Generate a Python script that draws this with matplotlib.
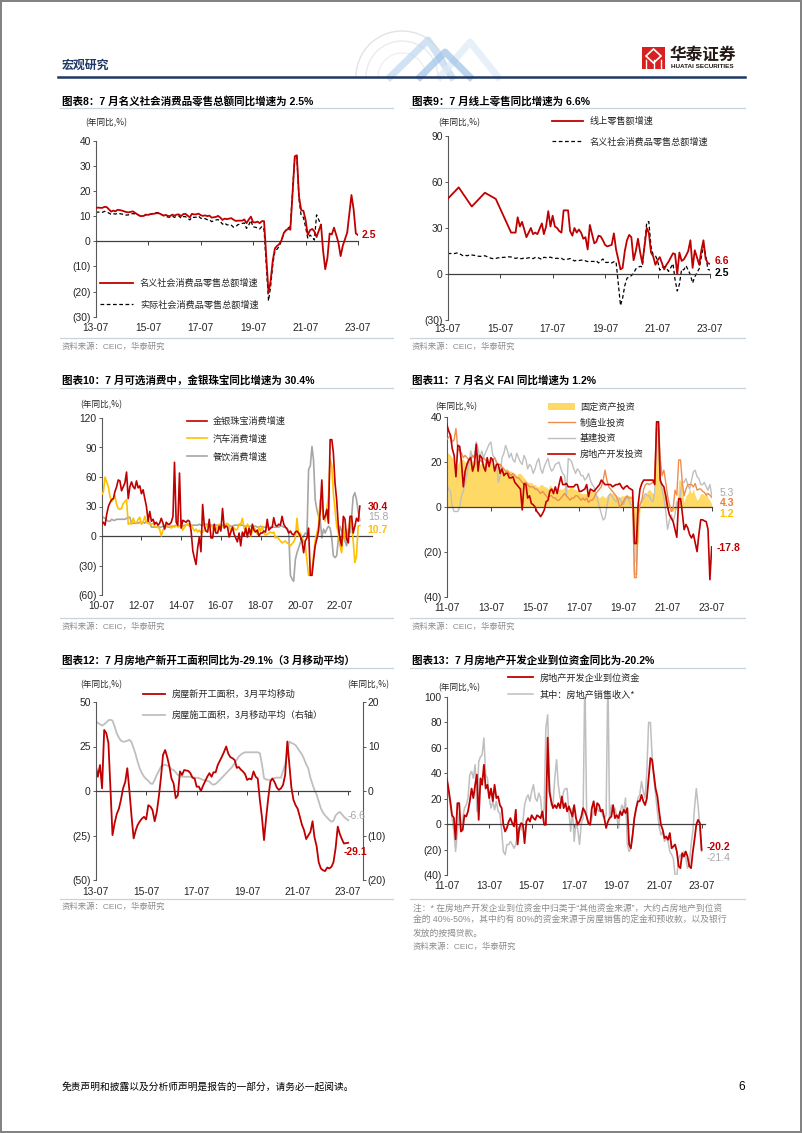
"""宏观研究 第 6 页：社零、线上零售、可选消费、FAI、新开工、到位资金 六张图。"""
import matplotlib
matplotlib.use("Agg")
import matplotlib.dates as mdates
import matplotlib.pyplot as plt
import numpy as np
import pandas as pd
from matplotlib.lines import Line2D
from matplotlib.patches import Arc, Polygon, Rectangle
from matplotlib.ticker import FuncFormatter

plt.rcParams["font.family"] = ["Liberation Sans", "Noto Sans CJK SC", "DejaVu Sans"]
plt.rcParams["axes.unicode_minus"] = False
CJK = ["Noto Sans CJK SC", "DejaVu Sans"]

# ---- 图表8：社零名义/实际（月度，1月与2月合并，不含1月）
RETAIL_NOMINAL = [
    13.2, 13.4, 13.3, 13.3, 13.7, 13.6,
    11.8, 12.2, 11.9, 12.5, 12.4, 12.2, 11.9, 11.6, 11.5, 11.7, 11.9,
    10.7, 10.2, 10.0, 10.1, 10.6, 10.5, 10.8, 10.9, 11.0, 11.2, 11.1,
    10.2, 10.5, 10.1, 10.0, 10.6, 10.2, 10.6, 10.7, 10.0, 10.8, 10.9,
    9.5, 10.9, 10.7, 10.7, 11.0, 10.4, 10.1, 10.3, 10.0, 10.2, 9.4,
    9.7, 10.1, 9.4, 8.5, 9.0, 8.8, 9.0, 9.2, 8.6, 8.1, 8.2,
    8.2, 8.7, 7.2, 8.6, 9.8, 7.6, 7.5, 7.8, 7.2, 8.0, 8.0,
    -20.5, -15.8, -7.5, -2.8, -1.8, -1.1, 0.5, 3.3, 4.3, 5.0, 4.6,
    33.8, 34.2, 17.7, 12.4, 12.1, 8.5, 2.5, 4.4, 4.9, 3.9, 1.7,
    6.7, -3.5, -11.1, -6.7, 3.1, 2.7, 5.4, 2.5, -0.5, -5.9, -1.8,
    3.5, 10.6, 18.4, 12.7, 3.1, 2.5,
]
RETAIL_REAL = [
    11.5, 11.6, 11.6, 11.5, 11.9, 11.7,
    10.7, 11.0, 10.8, 11.1, 11.0, 10.8, 10.7, 10.4, 10.5, 10.9, 11.0,
    10.8, 10.2, 10.0, 10.2, 10.6, 10.4, 10.7, 11.0, 11.2, 11.4, 11.3,
    10.2, 10.1, 9.6, 9.6, 10.0, 9.5, 10.0, 10.1, 9.2, 9.8, 9.8,
    8.5, 9.6, 9.5, 9.6, 10.0, 9.2, 8.9, 9.0, 8.6, 8.6, 7.8,
    8.5, 8.6, 7.9, 6.8, 7.3, 6.5, 6.6, 6.4, 5.6, 5.8, 6.6,
    7.1, 7.3, 5.1, 6.4, 8.3, 5.7, 5.6, 5.3, 4.9, 5.9, 4.6,
    -23.7, -18.1, -9.1, -3.7, -3.1, -1.9, 0.4, 3.3, 4.5, 5.3, 5.8,
    33.8, 34.0, 16.6, 10.1, 9.5, 5.7, 1.1, 2.5, 1.6, 0.5, 10.5,
    6.5,
]

# ---- 图表9：线上零售额增速（早期稀疏点 + 2016-02 起月度，不含1月）
ONLINE_EARLY_DATES = ["2013-07-01", "2013-12-01", "2014-06-01", "2014-12-01", "2015-05-01", "2015-12-01"]
ONLINE_EARLY = [49, 56.5, 44, 53, 49, 27]
ONLINE_MONTHLY = [
    27, 37, 31, 34, 29, 24, 27, 30, 26, 27, 26,
    33, 26, 31, 41, 31, 38, 31, 30, 28, 27, 41.5,
    41.5, 28, 25, 30, 27, 29, 27, 23, 24, 16, 32,
    20, 21, 25, 24.5, 22, 19, 18, 18.5, 19, 26.5, 16,
    3, 4, 15, 22, 25.5, 24, 9, 15, 23, 14, 7,
    30, 27, 14, 11.5, 6, 9, 11, 7, 3, 6, 8,
    13.5, 13, 0, 14, 8.5, 9.5, 12, 15, 22, 4, 15.5,
    6, 15, 22, 10, 7, 6.6,
]

# ---- 图表10：可选消费（2010-07 起月度）
JEWELRY = [
    12, 14, 11, 22, 30, 34,
    37, 38, 45, 50, 57, 56, 46, 50, 54, 65, 38, 50,
    55, 50, 48, 56, 49, 51, 43, 47, 38, 30, 15, 25,
    15, 17, 12, 14, 11, 13, 18, 13, 7, 14, 12, 12,
    14, 20, 75, 14, 11, 64, 8, 16, 15, 14, 16, 15,
    5, -15, -22, -29, -12, -1, -16, 32, 10, 5, 4, 17,
    -2, -2, 12, 3, 3, 10, 5, 28, 8, 10, 9, -1,
    4, 9, 2, -2, -6, 3, -10, 4, 0, 8, -1, 8,
    1, 12, 6, 4, 6, 0, 3, 3, 5, 4, 17, 6,
    8, 9, 18.6, 11, 10, 12, 11, 20, 12, 9, 7, 3,
    5, 2, 1, 4, 5, 3, 0, -5, -17, -5, -2, 8,
    -40, -40, -25, -10, -3, 5, 24, 57, 17, 20, 27, 13,
    98, 98, 85, 54, 37, 10, -3, -10, 20, 17, -3, -7,
    20, 20, 3, 10, 18, 15, 30.4,
]
AUTO = [
    42, 45, 60, 55, 50, 40,
    35, 38, 41, 32, 28, 27, 28, 33, 35, 37, 12, 13,
    12, 18, 14, 13, 17, 19, 12, 14, 20, 14, 13, 12,
    12, 13, 10, 9, 9, 7, 0, 6, 8, 10, 12, 10,
    8, 10, 9, 11, 9, 10, 12, 6, 9, 11, 12, 10,
    11, 8, 5, 7, 4, 6, 3, 4, 6, 10, 11, 12,
    10, 9, 5, 7, 10, 12, 8, 10, 11, 12, 13, 10,
    5, 9, 8, 6, 7, 12, 12, 18, 8, 6, 12, 10,
    0, 5, 9, 6, 2, 9, 5, 10, 3, 1, 2, 3,
    4, 3, 4, -2, -1, -3, -5, -7, -6, -5, -7, -8,
    -10, -8, -6, -2, 18, 0, 3, -3, -5, -10, -25, -40,
    -40, -35, -20, -5, 3, 10, 37, 30, 20, 15, 28, 40,
    78, 71, 44, 27, 10, 3, -10, -17, 10, -3, -2, 0,
    17, 10, -5, -27, -20, 10, 10.7,
]
CATERING = [
    20, 19, 18, 16, 15, 15,
    17, 16, 16, 17, 17, 17, 17, 17, 17, 18, 19, 19,
    13, 13, 13, 13, 13, 14, 13, 14, 13, 15, 14, 14,
    9, 9, 9, 9, 10, 9, 9, 10, 10, 10, 9, 9,
    10, 10, 10, 11, 10, 10, 10, 10, 11, 11, 12, 11,
    11, 11, 11, 11, 11, 12, 11, 11, 12, 12, 12, 11,
    11, 11, 11, 11, 11, 11, 11, 11, 11, 11, 11, 11,
    10, 10, 11, 11, 11, 11, 11, 11, 10, 10, 10, 10,
    10, 10, 10, 10, 9, 9, 10, 9, 9, 9, 9, 9,
    9, 9, 9, 9, 9, 9, 10, 10, 9, 9, 8, 5,
    -40, -44, -46, -24, -17, -12, -7, -3, 0, 3, 2, 68,
    71, 91, 78, 37, 27, 20, 17, -2, 7, 3, 7, 10,
    8, -3, -20, -22, -20, -3, 10, 5, 0, -5, -10, 7,
    3, 20, 40, 44, 37, 25, 15.8,
]

# ---- 图表11：FAI 分项（2011-07 起月度）
FAI = [
    24, 24, 23, 22, 20, 17, 19, 21, 22, 21, 20, 21,
    20, 20, 21, 20, 21, 20, 19, 20, 19, 20, 20, 19,
    20, 19, 18, 18, 18, 19, 17, 16, 17, 17, 16, 16,
    15, 15, 14, 15, 15, 14, 13, 12, 11, 11, 11, 10,
    10, 9, 9, 10, 10, 9, 9, 8, 10, 9, 8, 7,
    7, 8, 8, 8, 9, 8, 8, 9, 9, 8, 8, 7,
    7, 6, 6, 6, 6, 6, 7, 7, 7, 6, 5, 4,
    5, 5, 4, 5, 6, 6, 6, 6, 5, 5, 4, 5,
    5, 5, 5, 5, 5, 5, -24.5, -24.5, -16, -1, 3, 6,
    5, 7, 8, 7, 6, 6.3, 35, 35, 12, 9, 8, 6,
    3, 0, -2, -2, -1, -1, 12, 12, 9, 2, 5, 6,
    8, 6, 8, 5, 3, 4, 6, 6, 5, 7, 4, 3,
    1.2,
]
MANUF = [
    30, 31, 32, 29, 30, 35, 26, 25, 24, 22, 23, 22,
    21, 22, 23, 22, 24, 23, 21, 20, 22, 21, 20, 19,
    20, 21, 22, 20, 19, 19, 18, 17, 16, 16, 15, 14,
    15, 14, 13, 13, 12, 11, 10, 11, 10, 9, 9, 9,
    8, 8, 7, 6, 7, 6, 5, 4, 5, 5, 4, 4,
    3, 3, 4, 5, 6, 5, 4, 3, 4, 4, 5, 5,
    4, 3, 4, 3, 4, 2, 3, 3, 4, 6, 7, 8,
    9, 12, 16.4, 12, 9, 8, 7, 6, 5, 3, 0, 1,
    2.4, 4, 5, 4, 4, 4, -31.5, -31.5, -3.5, 1, 3, 8,
    10, 10.5, 10, 10.5, 11, 12.7, 38, 38, 21.6, 14, 16.4, 11,
    5, 1, -2, -0.6, 7.5, 5.3, 21, 21, 11, 5, 8, 10,
    10, 10, 9, 10.5, 7.5, 8, 8, 7, 6.5, 5.3, 6, 5.3,
    4.3,
]
INFRA = [
    10, 8, 7, 0, -2, -2, -2, 0, 5, 7, 11, 15,
    19, 25, 22, 23, 29, 26, 22, 25, 22, 24, 26, 28,
    29, 23, 22, 20, 11, 14, 22, 24, 27.5, 25, 22, 24,
    21, 20, 24, 22, 20, 19, 23, 21, 17, 19, 18, 15,
    17, 20, 21.6, 17, 15, 18, 20, 21.6, 18, 16, 17, 19,
    19.5, 20, 17, 15, 14, 5, 21.6, 21, 20, 17, 15, 17,
    16, 14, 14, 12, 13, 15, 12, 10, 9, 6, 3, 0,
    -3, -5.8, -5, 0, 5, 6, 4.6, 3, 2.4, 3, 4, 2,
    1, 3, 4.6, 3, 1, 1, -30, -30, -3.5, 1, 2.4, 4,
    6, 5, 5, 3, 2.4, 6.8, 35, 35, 11, 8, 4, -2,
    -10, -6, -3.5, -6.5, -3.5, 2.4, -0.6, 6.8, 11, 11, 12.7, 10,
    8, 12, 15.7, 16.4, 13.5, 12.7, 10, 10, 11, 9, 7.5, 10,
    5.3,
]
PROPERTY_FAI = [
    37, 34, 32, 26, 23, 13.5, 27.5, 27, 20, 9, 16, 19,
    21, 22, 16, 19, 28, 16, 23, 22, 18, 16, 22, 18,
    22, 21, 16, 19, 19, 15, 17, 14, 15, 15, 13, 13,
    13.5, 11, 10, 9, 8, -1.3, 10.5, 10, 4, 5, 1.6, 1,
    0, -2, -3, -4.3, -3, -1.3, 2.4, 3, 7, 8, 6, 9,
    6, 10, 13.5, 10, 10, 10.5, 9, 9, 9, 9, 10, 10,
    7, 7, 7.5, 8, 10, 4.6, 8, 7.5, 7, 8, 9, 10,
    12, 11, 10, 10, 10, 10, 9, 9.5, 10, 10, 10.5, 9,
    8, 9, 9.5, 8.5, 8, 7.5, -16.3, -16.3, 1, 8, 10.5, 12,
    12, 12, 12, 12, 12, 10, 38, 38, 12, 10, 9, 5,
    0, -3.5, -5, -6.5, -10, -13.5, 3.7, 3.7, -2.4, -10.1, -7.8, -9.4,
    -12.3, -13.8, -12.1, -16, -19.9, -12.2, -5.7, -5.7, -6.2, -6.5, -10, -32.4,
    -17.8,
]

# ---- 图表12：新开工 / 施工面积 3 月移动平均（2013-07 起月度）
NEW_STARTS = [
    14.6, 8, 14.6, 1.5, 34.3, 32.5, 27, 0, -24.8, -18, -13, -10,
    -5, 1.5, 5, 12.8, 0, -14, -26.6, -22, -19, -17, -15.5, -14.5,
    -16, -8, -8.8, -10.7, -17, -12, -3, 8, 20.3, 23, 19, 13.7,
    7, 4.3, -4, -2.5, 11, 9, 11.8, 11.5, 11.3, 10, 7.5, 7,
    2.4, 2.5, 0, 3, 5.5, 8, 10, 8, 10.5, 10.5, 14.5, 17,
    19.3, 22, 25, 21, 19, 18.4, 17.4, 13, 13.5, 12, 11, 9.5,
    6.2, 7, 6.5, 11, 8, 7, -5, -15, -27.6, -15, -4, 5.3,
    7, 5, 2, 0.6, 1.5, 3.4, 9, 27.8, 15.6, 2, -5, -8,
    -10, -14.4, -19, -22, -27, -25, -23, -17, -26, -31, -40, -43.5,
    -44.5, -45, -43, -43.5, -42.6, -40, -32, -20, -24, -27, -29.5, -29.3,
    -29.1,
]
UNDER_CONST = [
    15.6, 15.3, 15.0, 14.7, 15.0, 15.4, 15.9, 16.0, 15.8, 14.5, 13.0, 12.0,
    11.3, 11.1, 11.1, 11.3, 11.5, 11.0, 9.6, 8.1, 6.5, 5.0, 4.0, 3.2,
    2.7, 2.3, 1.7, 1.6, 2.5, 3.6, 4.5, 5.5, 5.8, 5.9, 5.7, 5.5,
    4.9, 4.7, 4.2, 3.6, 3.4, 3.2, 3.2, 3.2, 3.2, 3.2, 3.1, 3.0,
    3.0, 2.9, 2.7, 2.5, 2.4, 2.3, 2.1, 1.6, 1.4, 1.6, 2.0, 2.5,
    3.0, 3.5, 4.0, 4.5, 5.0, 5.5, 6.2, 7.0, 7.7, 8.2, 8.5, 8.7,
    8.7, 8.7, 8.7, 8.7, 8.7, 8.7, 8.5, 5.9, 2.9, 2.6, 2.5, 2.5,
    2.7, 2.9, 3.0, 3.0, 3.0, 4.5, 6.0, 8.9, 11.1, 10.8, 10.6, 10.3,
    9.6, 8.9, 8.2, 7.2, 6.0, 5.1, 3.0, 1.5, 0.2, -0.8, -2.3, -3.9,
    -4.8, -5.5, -6.0, -6.5, -6.9, -6.7, -5.5, -5.0, -4.7, -5.2, -5.8, -6.2,
    -6.6,
]

# ---- 图表13：到位资金 / 销售收入（2011-07 起月度）
FUNDS = [
    36, 28, 18, 7, 5, -12, 16.5, 16.5, -5.8, -4.5,
    7, 6, 10, 18, 28, 20.5, 31, 39, 3.4, 36,
    31, 46.7, 28, 31, 20.5, 28, 18, 31, 20.5, 21.8,
    15, 12.6, -0.5, -5.8, -3, 2, 4.7, 0.8, -1.8, 11.3,
    -16, -3, 0.8, -0.5, -15, 2, 4.7, 2, 7, 4.7,
    3.4, 7, 6, 4.7, 10, -0.5, -0.5, 68, 25.7, 18,
    12.6, 15, 12.6, 16.5, 12.6, 21.8, 12.6, 16.5, 10, 14,
    10, 6, 15, 4.7, -0.5, 2, 6, 12.6, 10, 6,
    0.8, -0.5, 12.6, 18, 7, 16.5, 15, 10, 11.3, 4.7,
    -3, 2, 4.7, 6, 15, 4.7, 7, 4.7, 10, 7,
    11.3, 8.7, 12.6, -16, -19, -8.4, 4.7, 12.6, 18, 18,
    23, 18, 15, 20, 36, 52, 50.7, 39, 28, 21.8,
    10, -0.5, -4.5, -11, -9.7, -12.3, -7, -19, -17.6, -16,
    -21.5, -33, -34.6, -22.8, -25.5, -21.5, -25.5, -33, -34.6, -21.5,
    -12.3, -0.5, 3.4, 0.8, -20.2,
]
SALES = [
    39, 25.7, 15, 4.7, -5.8, -21.5, -5.8, 8.7, -5.8, 4.7,
    12.6, 15, 20.5, 39, 41.5, 36, 46.7, 10, 49, 53,
    54.6, 67.7, 39, 36, 20.5, 12.6, 18, 11.3, 18, 10,
    8.7, -5.8, -21.5, -24, -16, -16, -13.6, -16, -19, -16,
    -5.8, -1.8, -4.5, 2, 15, 20.5, 23, 18, 25.7, 31,
    20.5, 18, 24.4, 20.5, 4.7, 12.6, 75.6, 86, 36, 15,
    15, 36, 50.7, 31, 20.5, 18, 25.7, 28, 28, 10,
    -5.8, 12.6, -13.6, 2, -4.5, -16, 0.8, 4.7, 120, 4.7,
    2, -0.5, 4.7, 10, 10, 12.6, 10, 11.3, 7, 4.7,
    7, 120, 4.7, 15, 10, 12.6, 7, -3, 10, 15,
    10, 20.5, -16, -21.5, -19, -8.4, 4.7, 12.6, 20.5, 23,
    33.6, 25.7, 20.5, 41.5, 80, 80, 54.6, 36, 23, 10,
    -1.8, -8.4, -5.8, -13.6, -11, -13.6, -21.5, -24, -26.8, -40,
    -41, -26.8, -24, -26.8, -21.5, -26.8, -34.6, -32, -16, -5.8,
    12.6, 28, 15, -1.8, -21.4,
]

W, H = 802, 1133
RED = "#C00000"
YELLOW = "#FFC000"
GREY = "#A6A6A6"
LGREY = "#BFBFBF"
ORANGE = "#F08C4E"
FAI_C = "#FFD966"
AXIS = "#595959"
ZERO = "#404040"
TXT = "#262626"
SRC = "#8C8C8C"
RULE = "#C9D3DE"
NAVY = "#1F3864"

fig = plt.figure(figsize=(W / 100, H / 100), dpi=100)


def fx(x):
    return x / W


def fy(y):
    return 1 - y / H


def panel(l, t, r, b):
    return fig.add_axes([fx(l), fy(b), (r - l) / W, (b - t) / H])


def d2n(s):
    return mdates.date2num(pd.Timestamp(s))


def monthly(start, n, skip_jan=False):
    d = pd.date_range(start, periods=2 * n, freq="MS")
    if skip_jan:
        d = d[d.month != 1]
    return mdates.date2num(d[:n].to_pydatetime())


def paren(v, _):
    return f"({abs(v):g})" if v < 0 else f"{v:g}"


def setup(ax, ylim, yticks, x0, x1, years, drop_px, zero_end=None):
    ax.set_xlim(d2n(x0), d2n(x1))
    ax.set_ylim(*ylim)
    ax.set_yticks(list(yticks))
    ax.yaxis.set_major_formatter(FuncFormatter(paren))
    ax.patch.set_visible(False)
    for s in ("top", "right"):
        ax.spines[s].set_visible(False)
    ax.spines["left"].set(color=AXIS, linewidth=0.8)
    sp = ax.spines["bottom"]
    sp.set_position(("data", 0))
    sp.set(color=ZERO, linewidth=0.9)
    if zero_end:
        sp.set_bounds(d2n(x0), d2n(zero_end))
    ticks = [d2n(f"{y}-07-01") for y in years]
    ax.set_xticks(ticks)
    ax.tick_params(axis="x", labelbottom=False, direction="out", length=3, width=0.7, color=ZERO)
    ax.tick_params(axis="y", direction="out", length=2, width=0.7, color=AXIS,
                   labelsize=7.4, labelcolor=TXT, pad=1.5)
    hpx = ax.get_position().height * H
    for y, t in zip(years, ticks):
        ax.text(t, -drop_px / hpx, f"{y % 100:02d}-07", transform=ax.get_xaxis_transform(),
                ha="center", va="center", fontsize=7.4, color=TXT)


def legend(ax, handles, x, y, gap, hlen, tx, fs=6.6):
    fpx = fs * 100 / 72
    rowh = 0.92 * fpx
    ax.legend(handles=handles, loc="upper left", bbox_to_anchor=(fx(x), fy(y - 0.6 * fpx)),
              bbox_transform=fig.transFigure, frameon=False, prop={"family": CJK, "size": fs},
              handlelength=hlen / fpx, handletextpad=(tx - x - hlen) / fpx,
              labelspacing=(gap - rowh) / fpx, borderpad=0, borderaxespad=0, labelcolor=TXT)


def tag(ax, x, y, text, color, dx=4, bold=True):
    ax.annotate(text, xy=(x, y), xytext=(dx * 0.72, 0), textcoords="offset points",
                ha="left", va="center", fontsize=7.5, color=color,
                fontweight="bold" if bold else "normal", annotation_clip=False)


def unit(x, y):
    fig.text(fx(x), fy(y), "(年同比,%)", fontsize=6.2, family=CJK, va="center", color=TXT)


def heading(x0, x1, y_text, y_line, text):
    fig.text(fx(x0 + 2), fy(y_text), text, fontsize=7.6, fontweight="bold", va="center", color="black")
    fig.add_artist(Line2D([fx(x0), fx(x1)], [fy(y_line)] * 2, color=RULE, lw=0.9))


def source(x0, x1, y_line, y_text):
    fig.add_artist(Line2D([fx(x0), fx(x1)], [fy(y_line)] * 2, color=RULE, lw=0.9))
    fig.text(fx(x0 + 2), fy(y_text), "资料来源：CEIC，华泰研究", fontsize=6, color=SRC, va="center")


# ---------------- page furniture
fig.add_artist(Rectangle((0.001, 0.001), 0.998, 0.998, transform=fig.transFigure,
                         fill=False, ec="#808080", lw=1.4))
for r, c in ((46, "#E3E3E3"), (36, "#EBEBEB"), (24, "#F0F0F0")):
    fig.add_artist(Arc((fx(402), fy(77)), 2 * r / W, 2 * r / H, theta1=0, theta2=180,
                       transform=fig.transFigure, color=c, lw=1.0))
for pts, c in (([(390, 77), (428, 40), (452, 77)], "#BDD7EE"),
               ([(440, 77), (470, 42), (498, 77)], "#DDEBF7"),
               ([(420, 77), (445, 52), (470, 77)], "#9DC3E6")):
    fig.add_artist(Line2D([fx(p[0]) for p in pts], [fy(p[1]) for p in pts], color=c, lw=5, alpha=0.7))
fig.text(fx(62), fy(65), "宏观研究", fontsize=8.6, fontweight="bold", color=NAVY, va="center", family=CJK)
fig.add_artist(Line2D([fx(58), fx(745)], [fy(77)] * 2, color=NAVY, lw=1.8))
fig.add_artist(Rectangle((fx(642), fy(69)), 23 / W, 22 / H, transform=fig.transFigure,
                         color="#D7201F", lw=0))
fig.add_artist(Polygon([(fx(653.5), fy(49)), (fx(661), fy(56)), (fx(653.5), fy(63)), (fx(646), fy(56))],
                       closed=True, transform=fig.transFigure, fc="none", ec="white", lw=1.2))
for xx in (646, 653.5, 661):
    fig.add_artist(Line2D([fx(xx), fx(xx)], [fy(60), fy(69)], color="white", lw=1.0))
fig.text(fx(670), fy(55), "华泰证券", fontsize=12, fontweight="bold", color="#231815", va="center", family=CJK)
fig.text(fx(671), fy(67), "HUATAI SECURITIES", fontsize=4.6, fontweight="bold", color="#231815", va="center")
fig.text(fx(62), fy(1087), "免责声明和披露以及分析师声明是报告的一部分，请务必一起阅读。",
         fontsize=7, color="black", va="center", family=CJK)
fig.text(fx(745), fy(1087), "6", fontsize=8.5, color="black", va="center", ha="right")

# ---------------- 图表8
heading(60, 393, 101.7, 107.5, "图表8：7 月名义社会消费品零售总额同比增速为 2.5%")
source(60, 393, 338, 347)
ax = panel(95.7, 140.7, 358, 316.7)
setup(ax, (-30, 40), range(-30, 41, 10), "2013-07-01", "2023-07-01", range(2013, 2024, 2), 11)
x8 = monthly("2013-07-01", len(RETAIL_NOMINAL), skip_jan=True)
h1, = ax.plot(x8, RETAIL_NOMINAL, color=RED, lw=1.3, zorder=3, label="名义社会消费品零售总额增速")
h2, = ax.plot(x8[:len(RETAIL_REAL)], RETAIL_REAL, color="black", lw=0.9, ls=(0, (3, 2)),
              zorder=2, label="实际社会消费品零售总额增速")
legend(ax, [h1, h2], 100, 284, 21, 33, 140)
tag(ax, x8[-1], RETAIL_NOMINAL[-1], "2.5", RED, dx=4)
unit(85, 123)

# ---------------- 图表9
heading(410, 745, 101.7, 107.5, "图表9：7 月线上零售同比增速为 6.6%")
source(410, 745, 338, 347)
ax = panel(447.7, 136, 710, 320)
setup(ax, (-30, 90), range(-30, 91, 30), "2013-07-01", "2023-07-01", range(2013, 2024, 2), 9)
x9 = np.concatenate([mdates.date2num(pd.to_datetime(ONLINE_EARLY_DATES).to_pydatetime()),
                     monthly("2016-02-01", len(ONLINE_MONTHLY), skip_jan=True)])
h1, = ax.plot(x9, ONLINE_EARLY + ONLINE_MONTHLY, color=RED, lw=1.3, zorder=3, label="线上零售额增速")
h2, = ax.plot(x8, RETAIL_NOMINAL, color="black", lw=0.9, ls=(0, (3, 2)), zorder=2,
              label="名义社会消费品零售总额增速")
legend(ax, [h1, h2], 552, 122, 20, 31, 590)
tag(ax, x9[-1], 8.5, "6.6", RED, dx=5)
tag(ax, x8[-1], 0.9, "2.5", "black", dx=5)
unit(438, 123)

# ---------------- 图表10
heading(60, 393, 380, 388, "图表10：7 月可选消费中，金银珠宝同比增速为 30.4%")
source(60, 393, 618, 627)
ax = panel(101.7, 418, 371.5, 595)
setup(ax, (-60, 120), range(-60, 121, 30), "2010-07-01", "2024-02-01", range(2010, 2023, 2), 10.7)
x10 = monthly("2010-07-01", len(JEWELRY))
h1, = ax.plot(x10, JEWELRY, color=RED, lw=1.2, zorder=4, label="金银珠宝消费增速")
h2, = ax.plot(x10, AUTO, color=YELLOW, lw=1.2, zorder=3, label="汽车消费增速")
h3, = ax.plot(x10, CATERING, color=GREY, lw=1.2, zorder=2, label="餐饮消费增速")
legend(ax, [h1, h2, h3], 187, 422, 17, 20, 213)
tag(ax, x10[-1], 30, "30.4", RED, dx=8)
tag(ax, x10[-1], 19, "15.8", GREY, dx=8, bold=False)
tag(ax, x10[-1], 5.8, "10.7", YELLOW, dx=8)
unit(80, 405)

# ---------------- 图表11
heading(410, 745, 380, 388, "图表11：7 月名义 FAI 同比增速为 1.2%")
source(410, 745, 618, 627)
ax = panel(446.7, 417.3, 711.7, 596.7)
setup(ax, (-40, 40), range(-40, 41, 20), "2011-07-01", "2023-07-01", range(2011, 2024, 2), 11)
x11 = monthly("2011-07-01", len(FAI))
f1 = ax.fill_between(x11, FAI, 0, color=FAI_C, lw=0, zorder=1, label="固定资产投资")
h2, = ax.plot(x11, MANUF, color=ORANGE, lw=1.0, zorder=3, label="制造业投资")
h3, = ax.plot(x11, INFRA, color=LGREY, lw=1.0, zorder=2, label="基建投资")
h4, = ax.plot(x11, PROPERTY_FAI, color=RED, lw=1.2, zorder=4, label="房地产开发投资")
legend(ax, [f1, h2, h3, h4], 548, 408, 15, 27, 580)
tag(ax, x11[-1], 6.2, "5.3", GREY, dx=8, bold=False)
tag(ax, x11[-1], 1.8, "4.3", "#ED7D31", dx=8)
tag(ax, x11[-1], -3.1, "1.2", YELLOW, dx=8)
tag(ax, x11[-1], -18.1, "-17.8", RED, dx=5)
unit(435, 407)

# ---------------- 图表12
heading(60, 393, 660, 668, "图表12：7 月房地产新开工面积同比为-29.1%（3 月移动平均）")
source(60, 393, 899, 907)
ax = panel(95.7, 702, 363, 880)
setup(ax, (-50, 50), range(-50, 51, 25), "2013-07-01", "2024-02-01", range(2013, 2024, 2), 11.7,
      zero_end="2023-08-01")
tw = ax.twinx()
tw.set_ylim(-20, 20)
tw.set_yticks(range(-20, 21, 10))
tw.yaxis.set_major_formatter(FuncFormatter(paren))
for s in ("top", "left", "bottom"):
    tw.spines[s].set_visible(False)
tw.spines["right"].set(color=AXIS, linewidth=0.8)
tw.tick_params(axis="y", direction="out", length=2, width=0.7, color=AXIS,
               labelsize=7.4, labelcolor=TXT, pad=1.5)
x12 = monthly("2013-07-01", len(NEW_STARTS))
g12, = tw.plot(x12, UNDER_CONST, color=LGREY, lw=1.3, label="房屋施工面积，3月移动平均（右轴）")
r12, = ax.plot(x12, NEW_STARTS, color=RED, lw=1.3, label="房屋新开工面积，3月平均移动")
ax.set_zorder(tw.get_zorder() + 1)
legend(ax, [r12, g12], 143, 695, 20, 22, 172)
tag(ax, x12[-1], -34.3, "-29.1", RED, dx=-5)
tag(tw, x12[-1], -5.6, "-6.6", GREY, dx=-1, bold=False)
unit(80, 685)
unit(347, 685)

# ---------------- 图表13
heading(410, 745, 660, 668, "图表13：7 月房地产开发企业到位资金同比为-20.2%")
ax = panel(446.7, 697, 705.2, 875)
setup(ax, (-40, 100), range(-40, 101, 20), "2011-07-01", "2023-09-01", range(2011, 2024, 2), 10.7)
x13 = monthly("2011-07-01", len(FUNDS))
r13, = ax.plot(x13, FUNDS, color=RED, lw=1.3, zorder=3, label="房地产开发企业到位资金")
g13, = ax.plot(x13, SALES, color=LGREY, lw=1.1, zorder=2, label="其中：房地产销售收入*")
legend(ax, [r13, g13], 508, 679, 16, 25, 540)
tag(ax, x13[-1], -18.1, "-20.2", RED, dx=5)
tag(ax, x13[-1], -26.8, "-21.4", GREY, dx=5, bold=False)
unit(438, 688)
fig.add_artist(Line2D([fx(410), fx(745)], [fy(899)] * 2, color=RULE, lw=0.9))
NOTES = ["注：* 在房地产开发企业到位资金中归类于“其他资金来源”，大约占房地产到位资",
         "金的 40%-50%，其中约有 80%的资金来源于房屋销售的定金和预收款，以及银行",
         "发放的按揭贷款。"]
for i, line in enumerate(NOTES):
    fig.text(fx(413), fy(908 + 12.5 * i), line, fontsize=6.3, color=SRC, va="center")
fig.text(fx(413), fy(947), "资料来源：CEIC，华泰研究", fontsize=6, color=SRC, va="center")

fig.savefig("out.png", dpi=100)
